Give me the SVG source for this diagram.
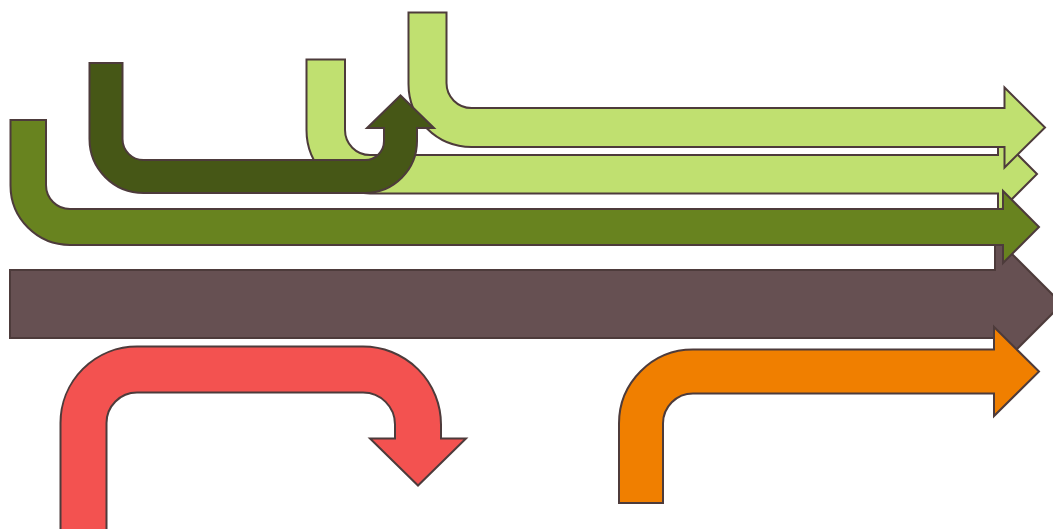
<svg xmlns="http://www.w3.org/2000/svg" width="1053" height="529" viewBox="0 0 1053 529">
<style>
.a{stroke:#4d3b3b;stroke-width:2;stroke-linejoin:miter}
.lg{fill:#c0e070}.dg{fill:#465716}.og{fill:#68831f}.br{fill:#665052}.or{fill:#f07f00}.rd{fill:#f35250}
</style>
<rect width="1053" height="529" fill="#ffffff"/>
<g id="arrow-brown"><path class="a br" d="M10,270 H995 V237 L1062,304 L995,371 V338 H10 Z"/></g>
<g id="arrow-lightgreen-2"><path class="a lg" d="M306.5,59.5 H345 V130 A25,25 0 0 0 370,155 H998 V135 L1037,174 L998,213 V193.5 H370 A63.5,63.5 0 0 1 306.5,130 Z"/></g>
<g id="arrow-lightgreen-1"><path class="a lg" d="M408.5,12.5 H446.5 V83 A25,25 0 0 0 471.5,108 H1004.5 V87.5 L1045,127.5 L1004.5,167.5 V147 H471.5 A63,63 0 0 1 408.5,84 Z"/></g>
<g id="arrow-darkgreen"><path class="a dg" d="M89.5,63 H122.5 V139 A21,21 0 0 0 143.5,160 H365 A19,19 0 0 0 384,141 V128 H367 L400.5,95.5 L434,128 H417 V141 A52,52 0 0 1 365,193 H143.5 A54,54 0 0 1 89.5,139 Z"/></g>
<g id="arrow-olive"><path class="a og" d="M10.5,120 H46 V185 A24,24 0 0 0 70,209 H1003 V191 L1039,227 L1003,263 V245 H70 A59.5,59.5 0 0 1 10.5,185.5 Z"/></g>
<g id="arrow-orange"><path class="a or" d="M619,503 V423.5 A74,74 0 0 1 693,349.5 H994 V327 L1039,371.5 L994,416 V393.5 H693 A30,30 0 0 0 663,423.5 V503 Z"/></g>
<g id="arrow-red"><path class="a rd" d="M60.5,540 V423 A76.5,76.5 0 0 1 137,346.5 H363 A78,78 0 0 1 441,424.5 V438.5 H466 L418,485.5 L370,438.5 H395 V424.5 A32,32 0 0 0 363,392.5 H137 A30.5,30.5 0 0 0 106.5,423 V540 Z"/></g>
<g id="connectors"></g>
</svg>
